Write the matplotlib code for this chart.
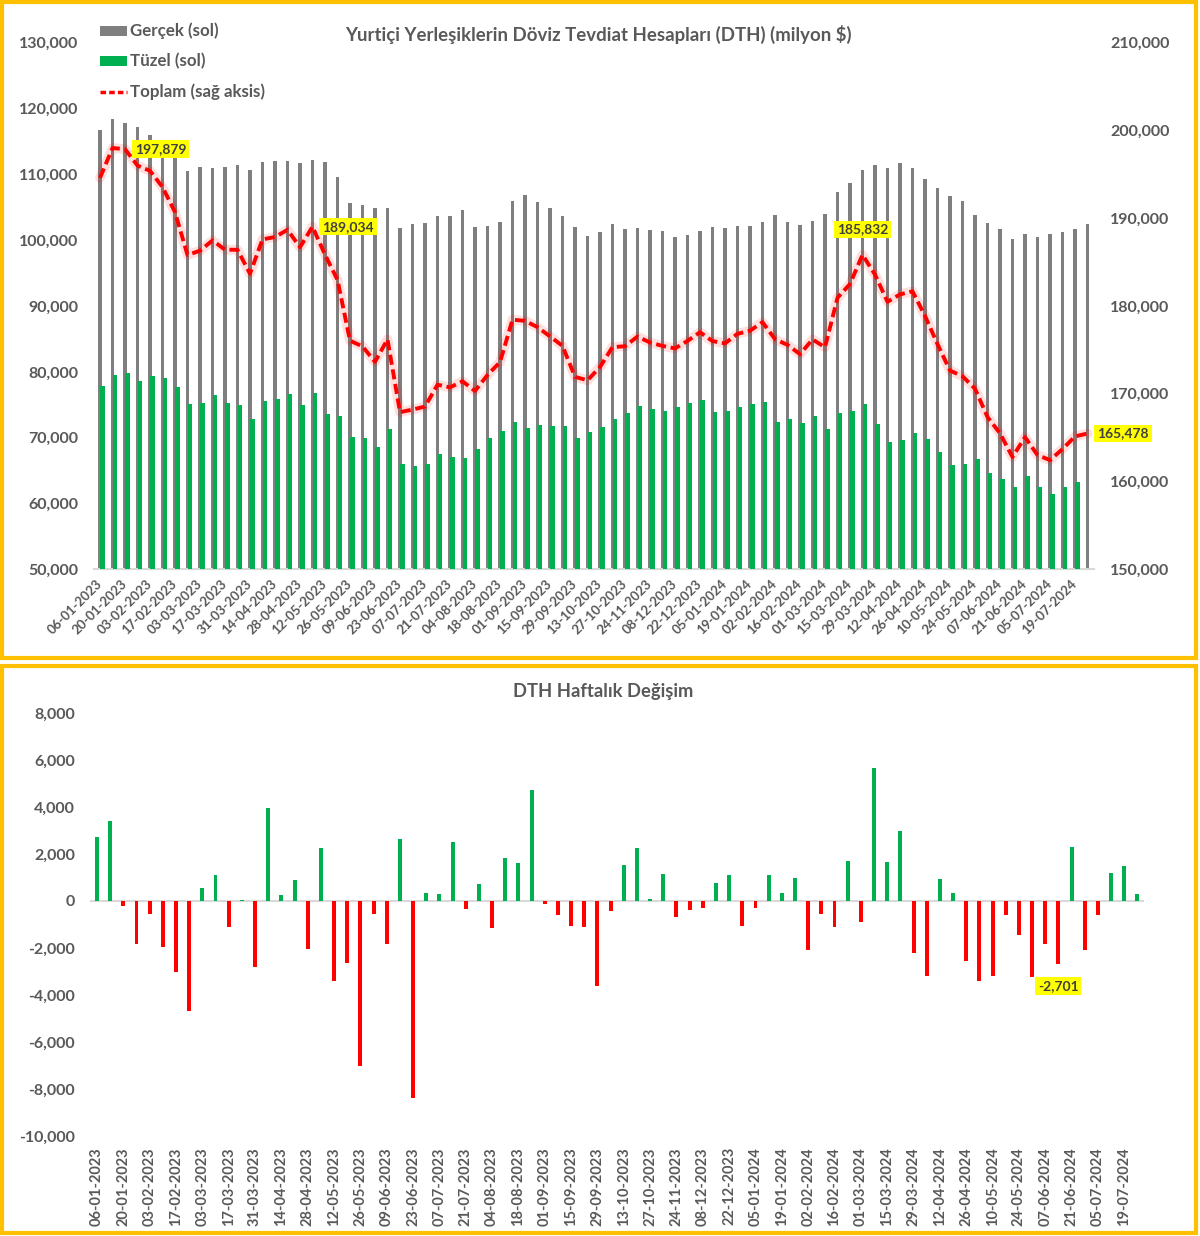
import matplotlib
matplotlib.use('Agg')
import matplotlib.pyplot as plt
import numpy as np
import pandas as pd
from matplotlib.patches import Rectangle
from matplotlib.lines import Line2D
from matplotlib.ticker import FuncFormatter

plt.rcParams['font.family'] = ['Lato', 'DejaVu Sans']

# ---------------- DATA ----------------
dates = ([d.strftime('%d-%m-%Y') for d in pd.date_range('2023-01-06', '2023-10-27', freq='7D')]
         + ['10-11-2023']
         + [d.strftime('%d-%m-%Y') for d in pd.date_range('2023-11-24', '2024-07-26', freq='7D')])

gercek = [116730, 118360, 117840, 117240, 115970, 114400, 112900, 110550, 111110, 110960,
          111110, 111410, 110700, 111870, 111980, 111980, 111670, 112220, 111920, 109550,
          105690, 105390, 104880, 104840, 101890, 102500, 102560, 103620, 103620, 104530,
          102050, 102100, 102710, 105990, 106810, 105750, 104840, 103720, 102000, 100580,
          101290, 102410, 101690, 101800, 101540, 101440, 100480, 100780, 101390, 102050,
          101800, 102200, 102100, 102710, 103780, 102800, 102350, 102950, 103970, 107310,
          108640, 110660, 111410, 111010, 111670, 111010, 109340, 107870, 106660, 105950,
          103780, 102650, 101690, 100220, 100890, 100480, 100930, 101240, 101740, 102450]

tuzel = [77850, 79520, 79870, 78650, 79410, 79110, 77650, 75110, 75220, 76430,
         75220, 74960, 72880, 75610, 75830, 76630, 74960, 76740, 73590, 73290,
         70140, 69950, 68630, 71310, 65950, 65690, 65950, 67470, 67060, 66910,
         68280, 69950, 71010, 72420, 71470, 71920, 71770, 71770, 69950, 70900,
         71660, 72830, 73700, 74810, 74350, 74050, 74700, 75220, 75720, 73900,
         74000, 74660, 75110, 75460, 72380, 72880, 72230, 73290, 71360, 73790,
         74090, 75160, 72120, 69380, 69690, 70660, 69790, 67870, 65850, 66040,
         66710, 64680, 63720, 62550, 64170, 62550, 61440, 62460, 63310, np.nan]

toplam = [194600, 198000, 197879, 196000, 195400, 193550, 190700, 185810, 186300, 187470,
          186420, 186400, 183680, 187590, 187860, 188680, 186700, 189034, 185850, 182970,
          176050, 175400, 173640, 176200, 167900, 168200, 168540, 171030, 170730, 171420,
          170320, 172140, 173600, 178440, 178310, 177590, 176540, 175450, 171930, 171530,
          173050, 175320, 175410, 176520, 175840, 175450, 175170, 176020, 177010, 176000,
          175740, 176830, 177180, 178160, 176220, 175570, 174510, 176190, 175300, 180930,
          182510, 185832, 183580, 180480, 181320, 181670, 178880, 175650, 172640, 172000,
          170580, 167350, 165490, 162789, 165060, 163015, 162440, 163700, 165140, 165478]

haftalik = [2720, 3390, -210, -1840, -570, -1960, -3020, -4680, 570, 1120,
            -1110, 30, -2810, 3960, 240, 880, -2060, 2240, -3400, -2640,
            -7000, -550, -1820, 2640, -8380, 360, 310, 2510, -330, 740,
            -1140, 1820, 1620, 4710, -140, -610, -1080, -1110, -3620, -430,
            1530, 2260, 100, 1170, -680, -400, -310, 770, 1090, -1060,
            -280, 1110, 340, 1000, -2070, -540, -1110, 1690, -880, 5680,
            1650, 2980, -2200, -3180, 940, 320, -2550, -3420, -3180, -580,
            -1450, -3220, -1840, -2701, 2300, -2070, -580, 1180, 1480, 300]

top_labels = {2: 'right', 17: 'right', 61: 'above', 79: 'right'}
bottom_labels = {73: 'below'}

# ---------------- STYLE ----------------
GRAY = '#7F7F7F'
GREEN = '#00B050'
RED = '#FF0000'
TXT = '#595959'
GOLD = '#FFC000'
W, H = 1200, 1236

fig = plt.figure(figsize=(W / 100, H / 100), dpi=100)
fig.patch.set_facecolor('white')


def fx(px):
    return px / W


def fy(py):
    return 1 - py / H


fmt = FuncFormatter(lambda v, p: f"{v:,.0f}")
n = len(dates)
x = np.arange(n)

# ---------------- TOP CHART ----------------
ax = fig.add_axes([fx(93.75), fy(569.3), 1000 / W, 526.6 / H])
ax.bar(x, np.array(gercek) - 50000, bottom=50000, width=0.26, color=GRAY, zorder=2)
ax.bar(x + 0.21, np.array(tuzel) - 50000, bottom=50000, width=0.37, color=GREEN, zorder=3)
ax.set_ylim(50000, 130000)
ax.set_xlim(-0.5, n - 0.5)
ax.set_yticks(np.arange(50000, 130001, 10000))
ax.yaxis.set_major_formatter(fmt)
ax.set_xticks(x[::2])
ax.set_xticklabels(dates[::2], rotation=45, ha='right', va='center', rotation_mode='anchor')
for s in ['top', 'right', 'left']:
    ax.spines[s].set_visible(False)
ax.spines['bottom'].set_color('#D9D9D9')
ax.spines['bottom'].set_linewidth(1.5)
ax.tick_params(axis='y', length=0, pad=11, labelsize=11.5, labelcolor=TXT)
ax.tick_params(axis='x', length=0, pad=9, labelsize=9.5, labelcolor=TXT)
for t in ax.get_yticklabels() + ax.get_xticklabels():
    t.set_fontweight('bold')

ax2 = ax.twinx()
ax2.set_ylim(150000, 210000)
ax2.set_yticks(np.arange(150000, 210001, 10000))
ax2.yaxis.set_major_formatter(fmt)
for s in ['top', 'right', 'left', 'bottom']:
    ax2.spines[s].set_visible(False)
ax2.tick_params(axis='y', length=0, pad=12, labelsize=11.5, labelcolor=TXT)
for t in ax2.get_yticklabels():
    t.set_fontweight('bold')
ax2.plot(x, toplam, color=RED, lw=7, alpha=0.13, solid_joinstyle='round', solid_capstyle='round', zorder=4)
ax2.plot(x, toplam, color=RED, lw=2.8, dashes=(2.6, 1.2), zorder=5)

for i, pos in top_labels.items():
    val = toplam[i]
    if pos == 'right':
        off, ha, va = (7, 0), 'left', 'center'
    else:
        off, ha, va = (0, 14), 'center', 'bottom'
    ax2.annotate(f"{val:,.0f}", (x[i], val), xytext=off, textcoords='offset points',
                 ha=ha, va=va, fontsize=10, fontweight='bold', color='#404040',
                 bbox=dict(boxstyle='square,pad=0.2', fc='#FFFF00', ec='none'),
                 annotation_clip=False, zorder=6)

fig.text(fx(598), fy(34), 'Yurtiçi Yerleşiklerin Döviz Tevdiat Hesapları (DTH) (milyon $)',
         ha='center', va='center', fontsize=13.4, fontweight='bold', color=TXT)

# legend (manual)
leg_items = [('Gerçek (sol)', 'patch', GRAY, 31), ('Tüzel (sol)', 'patch', GREEN, 61),
             ('Toplam (sağ aksis)', 'line', RED, 92)]
for label, kind, col, yy in leg_items:
    if kind == 'patch':
        fig.add_artist(Rectangle((fx(100), fy(yy + 5)), 27 / W, 10 / H, transform=fig.transFigure,
                                 fc=col, ec='none'))
    else:
        fig.add_artist(Line2D([fx(100), fx(127)], [fy(yy), fy(yy)], transform=fig.transFigure,
                              color=col, lw=2.5, dashes=(1.6, 0.9)))
    fig.text(fx(130), fy(yy), label, ha='left', va='center', fontsize=12.2,
             fontweight='bold', color=TXT)

# ---------------- BOTTOM CHART ----------------
bx = fig.add_axes([fx(90.4), fy(1136), 1053.6 / W, 423 / H])
cols = [GREEN if v >= 0 else RED for v in haftalik]
bx.bar(x, haftalik, width=0.3, color=cols, zorder=3)
bx.axhline(0, color='#D9D9D9', lw=1.5, zorder=2)
bx.set_ylim(-10000, 8000)
bx.set_xlim(-0.5, n - 0.5)
bx.set_yticks(np.arange(-10000, 8001, 2000))
bx.yaxis.set_major_formatter(fmt)
bx.set_xticks(x[::2])
bx.set_xticklabels(dates[::2], rotation=90, ha='center', va='top')
for s in ['top', 'right', 'left', 'bottom']:
    bx.spines[s].set_visible(False)
bx.tick_params(axis='y', length=0, pad=11, labelsize=11.5, labelcolor=TXT)
bx.tick_params(axis='x', length=0, pad=8, labelsize=10.5, labelcolor=TXT)
for t in bx.get_yticklabels() + bx.get_xticklabels():
    t.set_fontweight('bold')

for i, pos in bottom_labels.items():
    val = haftalik[i]
    bx.annotate(f"{val:,.0f}", (x[i], val), xytext=(0, -11), textcoords='offset points',
                ha='center', va='top', fontsize=10, fontweight='bold', color='#404040',
                bbox=dict(boxstyle='square,pad=0.2', fc='#FFFF00', ec='none'),
                annotation_clip=False, zorder=6)

fig.text(fx(603), fy(692), 'DTH Haftalık Değişim', ha='center', va='center',
         fontsize=13.2, fontweight='bold', color=TXT)

# ---------------- FRAMES ----------------
fig.add_artist(Rectangle((fx(2), fy(658)), 1194 / W, 656 / H, transform=fig.transFigure,
                         fill=False, ec=GOLD, lw=3))
fig.add_artist(Rectangle((fx(2), fy(1233)), 1194 / W, 567 / H, transform=fig.transFigure,
                         fill=False, ec=GOLD, lw=3))

fig.savefig('out.png', dpi=100, facecolor='white')
